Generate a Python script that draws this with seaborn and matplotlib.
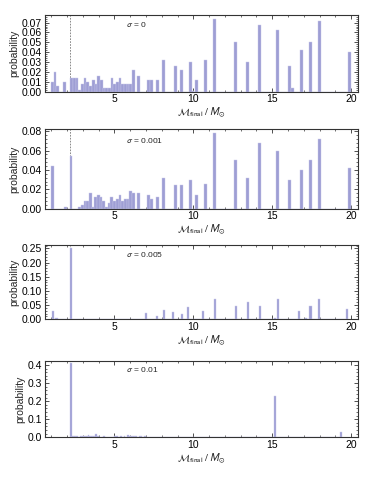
import numpy as np
import pandas as pd
import seaborn as sns
import matplotlib.pyplot as plt
from matplotlib.ticker import MultipleLocator, AutoMinorLocator, FormatStrFormatter

# sigma = 0
m_s0 = [1.08, 1.25, 1.42, 1.84, 2.30, 2.47, 2.64, 2.81, 2.98, 3.15, 3.32, 3.49, 3.66,
        3.83, 4.00, 4.17, 4.34, 4.51, 4.68, 4.85, 5.02, 5.19, 5.36, 5.53, 5.70, 5.87,
        6.04, 6.21, 6.55, 7.17, 7.34, 7.72, 8.10, 8.86, 9.24, 9.81, 9.98, 10.20, 10.77,
        11.34, 12.67, 13.43, 14.19, 15.34, 16.10, 16.27, 16.86, 17.43, 18.00, 19.90]
p_s0 = [0.010, 0.020, 0.006, 0.010, 0.014, 0.014, 0.014, 0.002, 0.008, 0.014, 0.010, 0.006, 0.012,
        0.008, 0.016, 0.012, 0.004, 0.004, 0.004, 0.014, 0.008, 0.010, 0.014, 0.008, 0.008, 0.008,
        0.008, 0.022, 0.016, 0.012, 0.012, 0.012, 0.032, 0.026, 0.022, 0.030, 0.001, 0.012, 0.032,
        0.074, 0.050, 0.030, 0.068, 0.062, 0.026, 0.004, 0.042, 0.050, 0.072, 0.040]

# sigma = 0.001
m_s1 = [1.09, 1.89, 2.25, 2.80, 2.97, 3.14, 3.31, 3.48, 3.65, 3.82, 3.99, 4.16, 4.33,
        4.50, 4.67, 4.84, 5.01, 5.18, 5.35, 5.52, 5.69, 5.86, 6.03, 6.20, 6.55, 7.17,
        7.34, 7.72, 8.10, 8.86, 9.24, 9.81, 10.20, 10.77, 11.34, 12.67, 13.43, 14.19,
        15.34, 16.10, 16.86, 17.43, 18.00, 19.90]
p_s1 = [0.044, 0.002, 0.054, 0.002, 0.004, 0.008, 0.008, 0.016, 0.002, 0.012, 0.014, 0.012, 0.008,
        0.002, 0.006, 0.012, 0.008, 0.010, 0.014, 0.008, 0.010, 0.010, 0.018, 0.016, 0.016, 0.014,
        0.010, 0.012, 0.032, 0.024, 0.024, 0.030, 0.014, 0.026, 0.078, 0.050, 0.032, 0.068,
        0.060, 0.030, 0.040, 0.050, 0.072, 0.042]

# sigma = 0.005
m_s5 = [1.11, 1.33, 2.23, 7.00, 7.72, 8.14, 8.69, 9.28, 9.64, 10.63, 11.37, 12.68, 13.46,
        14.22, 15.19, 15.35, 16.68, 17.15, 17.42, 17.97, 19.75]
p_s5 = [0.028, 0.006, 0.250, 0.022, 0.010, 0.032, 0.024, 0.020, 0.044, 0.028, 0.070, 0.046, 0.060,
        0.046, 0.006, 0.070, 0.028, 0.004, 0.046, 0.070, 0.038]

# sigma = 0.01
m_s10 = [2.23, 2.40, 2.52, 2.64, 2.76, 2.88, 3.00, 3.12, 3.24, 3.36, 3.48, 3.60, 3.72, 3.84,
         3.96, 4.08, 4.20, 4.32, 4.44, 4.56, 4.68, 4.80, 4.92, 5.04, 5.16, 5.28, 5.40, 5.52,
         5.64, 5.76, 5.88, 6.00, 6.12, 6.24, 6.36, 6.48, 6.60, 6.72, 6.84, 6.96, 7.08, 7.20,
         7.32, 7.44, 7.56, 7.68, 7.80, 15.17, 19.35]
p_s10 = [0.410, 0.006, 0.006, 0.006, 0.004, 0.006, 0.008, 0.008, 0.006, 0.010, 0.008, 0.006, 0.008, 0.016,
         0.006, 0.004, 0.004, 0.006, 0.004, 0.002, 0.004, 0.002, 0.002, 0.008, 0.008, 0.004, 0.006, 0.004,
         0.006, 0.004, 0.010, 0.008, 0.006, 0.006, 0.008, 0.004, 0.006, 0.006, 0.004, 0.006, 0.004, 0.004,
         0.002, 0.004, 0.002, 0.002, 0.002, 0.230, 0.030]

sigma_labels = ['0', '0.001', '0.005', '0.01']
m_dash = 2.22

sns.set_style('ticks')
plt.rcParams['font.family'] = ['Liberation Sans', 'DejaVu Sans']
plt.rcParams['mathtext.fontset'] = 'stixsans'

bar_color = '#9e9ed4'
edge_color = '#c9c9ea'
frame = '#333333'

panels = [
    dict(m=m_s0, p=p_s0, w=0.17, ymax=0.078, step=0.01, fmt='%.2f', rect=[0.120, 0.8086, 0.836, 0.1608], ty=0.866),
    dict(m=m_s1, p=p_s1, w=0.17, ymax=0.082, step=0.02, fmt='%.2f', rect=[0.120, 0.5643, 0.836, 0.1658], ty=0.856),
    dict(m=m_s5, p=p_s5, w=0.14, ymax=0.263, step=0.05, fmt='%.2f', rect=[0.120, 0.3334, 0.836, 0.1557], ty=0.870),
    dict(m=m_s10, p=p_s10, w=0.12, ymax=0.424, step=0.1, fmt='%.1f', rect=[0.120, 0.0871, 0.836, 0.1600], ty=0.880),
]

fig = plt.figure(figsize=(3.74, 4.79), dpi=100)

for pan, sig in zip(panels, sigma_labels):
    ax = fig.add_axes(pan['rect'])
    df = pd.DataFrame({'mass': pan['m'], 'prob': pan['p']})
    half = pan['w'] / 2
    edges = np.unique(np.round(np.concatenate([df['mass'] - half, df['mass'] + half]), 4)).tolist()
    sns.histplot(data=df, x='mass', weights='prob', bins=edges, ax=ax,
                 color=bar_color, edgecolor=edge_color, linewidth=0.3, alpha=1)
    ax.axvline(m_dash, color='#777777', linestyle=(0, (2, 1.5)), linewidth=0.6, zorder=0)

    ax.set_xlim(0.6, 20.4)
    ax.set_ylim(0, pan['ymax'])
    ax.xaxis.set_major_locator(MultipleLocator(5))
    ax.xaxis.set_minor_locator(MultipleLocator(1))
    ax.yaxis.set_major_locator(MultipleLocator(pan['step']))
    ax.yaxis.set_minor_locator(AutoMinorLocator(5))
    ax.yaxis.set_major_formatter(FormatStrFormatter(pan['fmt']))
    ax.tick_params(which='both', direction='in', top=True, right=True, colors=frame,
                   labelsize=7.5, labelcolor='black', pad=2)
    ax.tick_params(which='major', length=3, width=0.6)
    ax.tick_params(which='minor', length=1.5, width=0.5)
    for s in ax.spines.values():
        s.set_visible(True)
        s.set_color(frame)
        s.set_linewidth(0.8)

    ax.set_xlabel(r'$\mathcal{M}_{\mathrm{final}}\ /\ M_{\odot}$', fontsize=7.5, labelpad=1)
    ax.set_ylabel('probability', fontsize=7.5, labelpad=2)
    ax.text(0.26, pan['ty'], r'$\sigma$ = ' + sig, transform=ax.transAxes,
            fontsize=6, ha='left', va='center')

fig.savefig('out.png', dpi=100)
